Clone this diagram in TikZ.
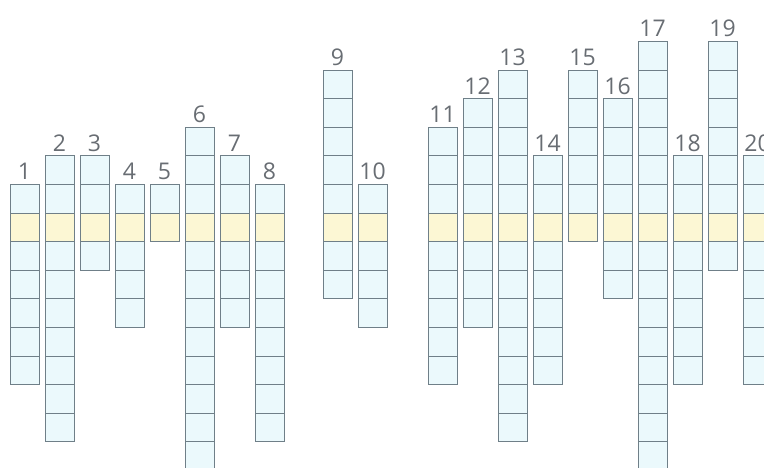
\documentclass[tikz,border=0pt]{standalone}
\usepackage{fontspec}
\setsansfont{Open Sans}
\usetikzlibrary{positioning}
\definecolor{barline}{HTML}{6F7F88}
\definecolor{barfill}{HTML}{EBF9FC}
\definecolor{barhi}{HTML}{FCF7D4}
\definecolor{barnum}{HTML}{686D73}

\begin{document}
\begin{tikzpicture}[x=1pt,y=-1pt,
  cell/.style={draw=barline,fill=barfill,line width=0.7pt,minimum width=29pt,minimum height=28.6pt,inner sep=0pt,outer sep=0pt},
  hicell/.style={cell,fill=barhi},
  num/.style={font=\sffamily\fontsize{23}{23}\selectfont,text=barnum,anchor=base,inner sep=0pt}
]
\useasboundingbox (0,0) rectangle (764,468);
\clip (0,0) rectangle (764,468);
% column: number / left edge / first row / last row (row 0 = yellow row)
\foreach \n/\x/\a/\b in {1/10/-1/5, 2/45/-2/7, 3/80/-2/1, 4/115/-1/3, 5/150/-1/0,
    6/185/-3/8, 7/220/-2/3, 8/255/-1/7, 9/323/-5/2, 10/358/-1/3,
    11/428/-3/5, 12/463/-4/3, 13/498/-5/7, 14/533/-2/5, 15/568/-5/0,
    16/603/-4/2, 17/638/-6/8, 18/673/-2/5, 19/708/-6/1, 20/743/-2/5}{
  \foreach \r in {\a,...,\b}{
    \ifnum\r=0 \def\st{hicell}\else\def\st{cell}\fi
    \node[\st] (c\n r\r) at ({\x+14.5},{213+28.6*\r+14.3}) {};
  }
  \node[num] (n\n) at ({\x+14.5},{213+28.6*\a-4.5}) {\n};
}
\end{tikzpicture}
\end{document}
